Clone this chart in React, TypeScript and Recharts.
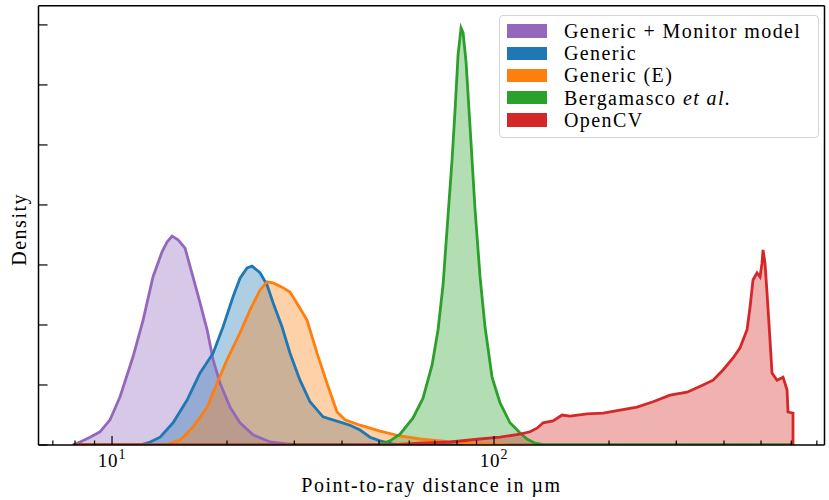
import React from 'react';
import { ComposedChart, Area, XAxis, YAxis, Legend } from 'recharts';

const WIDTH = 829;
const HEIGHT = 500;
const FONT = '"Liberation Serif", "DejaVu Serif", serif';

// point-to-ray distance (µm, log bins) and density
const MONITOR_X = [7.9, 8.25, 8.76, 9.3, 9.88, 10.49, 11.35, 12.06, 12.8, 13.52, 13.93, 14.36, 14.89, 15.53, 16.29, 17.0, 17.74, 18.39, 19.18, 20.37, 21.63, 23.39, 25.92, 28.72, 31.05];
const MONITOR_Y = [0, 0.05, 0.13, 0.22, 0.42, 0.8, 1.47, 2.08, 2.8, 3.22, 3.38, 3.48, 3.42, 3.28, 2.8, 2.37, 1.92, 1.42, 1.03, 0.63, 0.37, 0.17, 0.05, 0.02, 0];

const GENERIC_X = [11.84, 12.58, 13.36, 14.45, 15.72, 17.0, 18.39, 19.53, 20.74, 21.63, 22.57, 23.26, 24.4, 25.46, 26.4, 27.86, 29.24, 31.05, 32.98, 35.68, 39.54, 41.98, 44.6, 47.36, 50.3, 54.08, 56.75];
const GENERIC_Y = [0, 0.05, 0.13, 0.37, 0.75, 1.2, 1.53, 1.97, 2.47, 2.78, 2.95, 2.98, 2.87, 2.67, 2.37, 1.97, 1.53, 1.08, 0.72, 0.47, 0.38, 0.33, 0.25, 0.13, 0.07, 0.02, 0];

const GENERIC_E_X = [13.76, 15.07, 16.29, 17.74, 18.83, 20.0, 21.63, 22.98, 24.4, 25.46, 26.4, 27.86, 29.24, 31.05, 32.39, 34.41, 36.54, 38.82, 40.73, 44.6, 50.3, 56.75, 64.01, 72.23, 83.99, 97.61, 110.1];
const GENERIC_E_Y = [0, 0.08, 0.3, 0.63, 1.03, 1.42, 1.87, 2.25, 2.58, 2.72, 2.7, 2.63, 2.55, 2.28, 2.08, 1.53, 1.03, 0.55, 0.42, 0.33, 0.23, 0.15, 0.1, 0.07, 0.03, 0.02, 0];

const BERGAMASCO_X = [49.7, 53.43, 56.75, 61.38, 65.18, 68.82, 71.36, 73.55, 75.8, 77.65, 79.06, 80.51, 81.97, 82.97, 84.49, 86.55, 89.2, 91.93, 94.71, 98.81, 103.7, 110.1, 117.0, 122.0, 128.0, 136.0];
const BERGAMASCO_Y = [0, 0.07, 0.18, 0.45, 0.78, 1.33, 1.92, 2.67, 3.83, 4.75, 5.58, 6.5, 6.95, 6.87, 6.38, 5.3, 3.92, 2.8, 1.97, 1.13, 0.7, 0.37, 0.2, 0.1, 0.03, 0];

const OPENCV_X = [53.42, 64.01, 76.71, 91.93, 103.7, 117.0, 124.2, 129.6, 134.4, 142.7, 150.7, 158.1, 175.2, 192.9, 213.7, 236.7, 260.8, 288.8, 320.1, 352.4, 374.4, 397.6, 422.4, 440.6, 459.6, 468.0, 476.4, 488.1, 497.0, 503.0, 506.0, 512.1, 518.4, 527.8, 534.2, 550.6, 570.9, 584.8, 588.3, 606.3];
const OPENCV_Y = [0, 0.03, 0.05, 0.1, 0.13, 0.18, 0.22, 0.28, 0.37, 0.4, 0.5, 0.48, 0.52, 0.53, 0.58, 0.63, 0.72, 0.83, 0.88, 1.0, 1.08, 1.25, 1.45, 1.62, 1.92, 2.3, 2.75, 2.87, 2.8, 3.03, 3.25, 3.03, 2.53, 1.75, 1.2, 1.08, 1.13, 0.92, 0.55, 0.53];

// shared histogram range (all outlines run along zero across it)
const BIN_RANGE = [7.9, 606.3];

const X_DOMAIN = [6.42, 733];
const X_TICKS = [7, 8, 9, 10, 20, 30, 40, 50, 60, 70, 80, 90, 100, 200, 300, 400, 500, 600, 700];
const X_MAJOR: Record<number, string> = { 10: '1', 100: '2' };
const Y_DOMAIN = [0, 7.32];
const Y_TICKS = [0, 1, 2, 3, 4, 5, 6, 7];

const SERIES = [
  { key: 'monitor', name: 'Generic + Monitor model', color: '#9467bd', xs: MONITOR_X, ys: MONITOR_Y },
  { key: 'generic', name: 'Generic', color: '#1f77b4', xs: GENERIC_X, ys: GENERIC_Y },
  { key: 'genericE', name: 'Generic (E)', color: '#ff7f0e', xs: GENERIC_E_X, ys: GENERIC_E_Y },
  { key: 'bergamasco', name: 'Bergamasco', italic: 'et al.', color: '#2ca02c', xs: BERGAMASCO_X, ys: BERGAMASCO_Y },
  { key: 'opencv', name: 'OpenCV', color: '#d62728', xs: OPENCV_X, ys: OPENCV_Y },
];

// one row per point, each row only carries its own series key
const data: Record<string, number>[] = [];
SERIES.forEach((s) => {
  data.push({ x: BIN_RANGE[0], [s.key]: 0 });
  s.xs.forEach((x, i) => data.push({ x, [s.key]: s.ys[i] }));
  data.push({ x: BIN_RANGE[1], [s.key]: 0 });
});

const XTick = (props: any) => {
  const { x, y, payload } = props;
  const exp = X_MAJOR[payload.value];
  return (
    <g>
      <line x1={x} x2={x} y1={y} y2={y - (exp ? 9 : 4.5)} stroke="#000" strokeWidth={1.2} />
      {exp && (
        <text x={x} y={y + 22} textAnchor="middle" fontFamily={FONT} fontSize={19} letterSpacing={0.8} fill="#000">
          10<tspan dy={-8} fontSize={14}>{exp}</tspan>
        </text>
      )}
    </g>
  );
};

const YTick = (props: any) => {
  const { x, y } = props;
  return <line x1={x} x2={x + 9} y1={y} y2={y} stroke="#000" strokeWidth={1.2} />;
};

const XLabel = (props: any) => {
  const { x, y, width } = props.viewBox;
  return (
    <text x={x + width / 2} y={y + 47} textAnchor="middle" fontFamily={FONT} fontSize={20} letterSpacing={1.5} fill="#000">
      Point-to-ray distance in µm
    </text>
  );
};

const YLabel = (props: any) => {
  const { x, y, width, height } = props.viewBox;
  const cx = x + width - 12;
  const cy = y + height / 2 + 4;
  return (
    <text x={cx} y={cy} transform={`rotate(-90, ${cx}, ${cy})`} textAnchor="middle" fontFamily={FONT} fontSize={20} letterSpacing={1.5} fill="#000">
      Density
    </text>
  );
};

const LegendBox = () => (
  <div
    style={{
      border: '1px solid #d4d4d4',
      borderRadius: 4,
      background: 'rgba(255,255,255,0.8)',
      padding: '4px 0 6px 7px',
      fontFamily: FONT,
      fontSize: 20,
      letterSpacing: 1.4,
      width: 320,
      boxSizing: 'border-box',
    }}
  >
    {SERIES.map((s) => (
      <div key={s.key} style={{ display: 'flex', alignItems: 'center', height: 22.2 }}>
        <span style={{ width: 40, height: 13.5, background: s.color, marginRight: 17, flex: 'none' }} />
        <span style={{ whiteSpace: 'nowrap', lineHeight: '22px' }}>
          {s.name}
          {s.italic && <i> {s.italic}</i>}
        </span>
      </div>
    ))}
  </div>
);

export default function App() {
  return (
    <div style={{ position: 'absolute', left: 0, top: 0, width: WIDTH, height: HEIGHT, background: '#fff' }}>
      <ComposedChart width={WIDTH} height={HEIGHT} data={data} margin={{ top: 0, right: 0, bottom: 0, left: 0 }}>
        <XAxis
          dataKey="x"
          type="number"
          scale="log"
          domain={X_DOMAIN}
          allowDataOverflow
          ticks={X_TICKS}
          interval={0}
          height={55}
          tickSize={0}
          tickMargin={0}
          tickLine={false}
          tick={<XTick />}
          axisLine={{ stroke: '#000', strokeWidth: 1.5 }}
          label={<XLabel />}
        />
        <XAxis xAxisId="top" orientation="top" type="number" domain={[0, 1]} height={5.7} tick={false} tickLine={false} axisLine={{ stroke: '#000', strokeWidth: 1.5 }} />
        <YAxis
          type="number"
          domain={Y_DOMAIN}
          allowDataOverflow
          ticks={Y_TICKS}
          interval={0}
          width={38.5}
          tickSize={0}
          tickMargin={0}
          tickLine={false}
          tick={<YTick />}
          axisLine={{ stroke: '#000', strokeWidth: 1.5 }}
          label={<YLabel />}
        />
        <YAxis yAxisId="right" orientation="right" type="number" domain={[0, 1]} width={4.5} tick={false} tickLine={false} axisLine={{ stroke: '#000', strokeWidth: 1.5 }} />
        {SERIES.map((s) => (
          <Area
            key={`${s.key}-fill`}
            type="linear"
            dataKey={s.key}
            name={s.name}
            stroke="none"
            fill={s.color}
            fillOpacity={0.36}
            connectNulls
            dot={false}
            activeDot={false}
            isAnimationActive={false}
          />
        ))}
        {SERIES.map((s) => (
          <Area
            key={`${s.key}-line`}
            type="linear"
            dataKey={s.key}
            name={s.name}
            stroke={s.color}
            strokeWidth={2.8}
            fill="none"
            connectNulls
            dot={false}
            activeDot={false}
            isAnimationActive={false}
          />
        ))}
        <Legend
          layout="vertical"
          align="center"
          verticalAlign="middle"
          content={<LegendBox />}
          wrapperStyle={{ left: 499, top: 15, width: 320 }}
        />
      </ComposedChart>
    </div>
  );
}
